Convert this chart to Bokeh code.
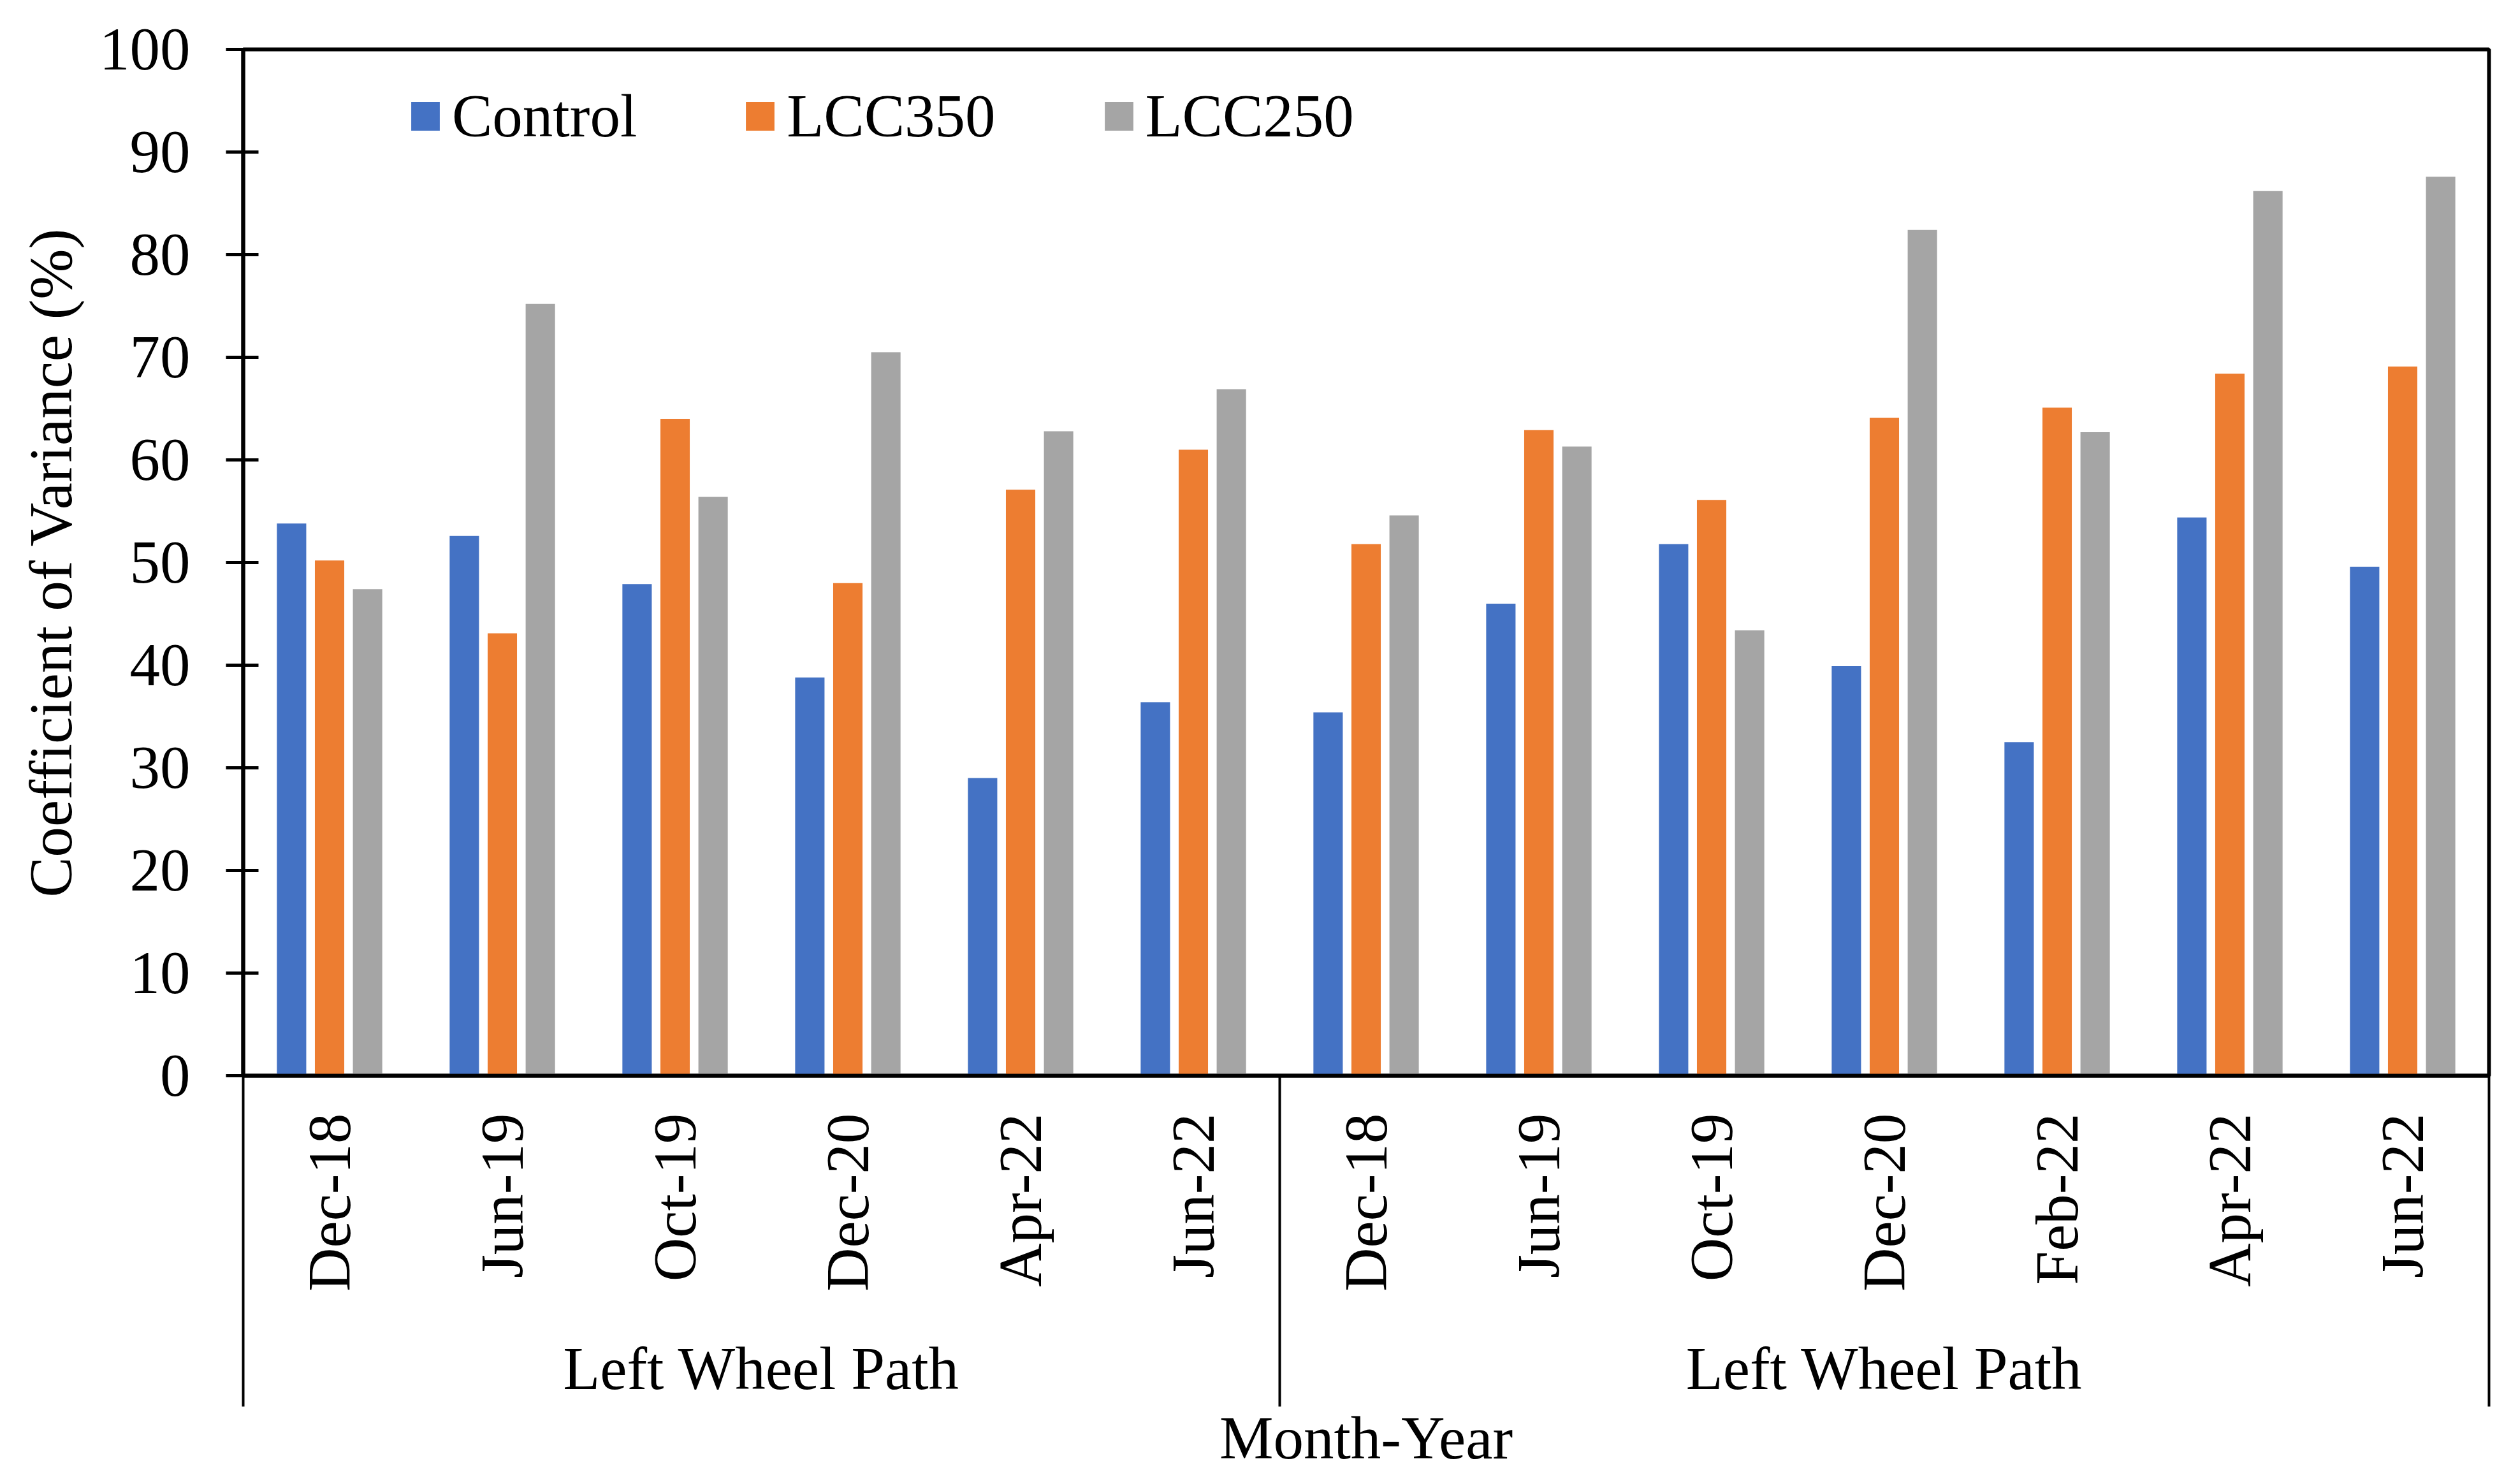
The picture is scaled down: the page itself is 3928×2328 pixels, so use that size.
import math
from bokeh.plotting import figure
from bokeh.models import (ColumnDataSource, LinearAxis, FixedTicker, Range1d)
from bokeh.transform import dodge
from bokeh.embed import file_html
from bokeh.resources import INLINE

# ---- data ----
group_label = "Left Wheel Path"
x_title = "Month-Year"
y_title = "Coefficient of Variance (%)"
months_g1 = ["Dec-18", "Jun-19", "Oct-19", "Dec-20", "Apr-22", "Jun-22"]
months_g2 = ["Dec-18", "Jun-19", "Oct-19", "Dec-20", "Feb-22", "Apr-22", "Jun-22"]
control = [53.8, 52.6, 47.9, 38.8, 29.0, 36.4,
           35.4, 46.0, 51.8, 39.9, 32.5, 54.4, 49.6]
lcc350 = [50.2, 43.1, 64.0, 48.0, 57.1, 61.0,
          51.8, 62.9, 56.1, 64.1, 65.1, 68.4, 69.1]
lcc250 = [47.4, 75.2, 56.4, 70.5, 62.8, 66.9,
          54.6, 61.3, 43.4, 82.4, 62.7, 86.2, 87.6]
y_ticks = [0, 10, 20, 30, 40, 50, 60, 70, 80, 90, 100]

months = months_g1 + months_g2
n = len(months)
xs = list(range(n))
src = ColumnDataSource(dict(x=xs, control=control, lcc350=lcc350, lcc250=lcc250))

FONT = "Liberation Serif"
FS = "95px"

p = figure(width=3912, height=2312, output_backend="svg", toolbar_location=None,
           x_range=Range1d(-0.5, n - 0.5), y_range=Range1d(0, 100),
           min_border_left=381, min_border_right=8, min_border_top=77,
           min_border_bottom=625, x_axis_type=None, y_axis_type=None)
p.grid.visible = False
p.outline_line_color = "black"
p.outline_line_width = 6
p.background_fill_color = "white"
p.border_fill_color = "white"

bw = 0.17
p.vbar(x=dodge("x", -0.22), top="control", width=bw, source=src,
       color="#4472C4", line_color=None, legend_label="Control")
p.vbar(x=dodge("x", 0.0), top="lcc350", width=bw, source=src,
       color="#ED7D31", line_color=None, legend_label="LCC350")
p.vbar(x=dodge("x", 0.22), top="lcc250", width=bw, source=src,
       color="#A5A5A5", line_color=None, legend_label="LCC250")

# y axis
yax = LinearAxis(ticker=FixedTicker(ticks=y_ticks, minor_ticks=[]),
                 axis_label=y_title)
yax.axis_line_width = 6
yax.axis_line_color = "black"
yax.major_tick_in = 24
yax.major_tick_out = 27
yax.major_tick_line_width = 5
yax.minor_tick_line_color = None
yax.major_label_standoff = 56
yax.major_label_text_font = FONT
yax.major_label_text_font_size = FS
yax.major_label_text_color = "black"
yax.axis_label_text_font = FONT
yax.axis_label_text_font_size = FS
yax.axis_label_text_font_style = "normal"
yax.axis_label_text_color = "black"
yax.axis_label_standoff = 20
p.add_layout(yax, "left")

# x axis: month labels + group separators
g1_n = len(months_g1)
boundaries = [-0.5, g1_n - 0.5, n - 0.5]
SEP = 519
xax = LinearAxis(ticker=FixedTicker(ticks=xs, minor_ticks=boundaries))
xax.major_label_overrides = {i: m for i, m in zip(xs, months)}
xax.major_label_orientation = math.pi / 2
xax.axis_line_width = 6
xax.axis_line_color = "black"
xax.major_tick_line_color = None
xax.major_tick_in = 0
xax.major_tick_out = 0
xax.minor_tick_in = 0
xax.minor_tick_out = SEP
xax.minor_tick_line_width = 4
xax.minor_tick_line_color = "black"
xax.major_label_standoff = 59 - SEP
xax.major_label_text_font = FONT
xax.major_label_text_font_size = FS
xax.major_label_text_color = "black"
p.add_layout(xax, "below")

# x axis: group labels + title
centers = [(g1_n - 1) / 2.0, (g1_n + n - 1) / 2.0]
gax = LinearAxis(ticker=FixedTicker(ticks=centers, minor_ticks=[]),
                 axis_label=x_title)
gax.major_label_overrides = {c: group_label for c in centers}
gax.axis_line_color = None
gax.major_tick_line_color = None
gax.minor_tick_line_color = None
gax.major_tick_in = 0
gax.major_tick_out = 0
gax.major_label_standoff = 64
gax.major_label_text_font = FONT
gax.major_label_text_font_size = FS
gax.major_label_text_color = "black"
gax.axis_label_text_font = FONT
gax.axis_label_text_font_size = FS
gax.axis_label_text_font_style = "normal"
gax.axis_label_text_color = "black"
gax.axis_label_standoff = 0
p.add_layout(gax, "below")

# legend
lg = p.legend[0]
lg.orientation = "horizontal"
lg.location = (258, 1450)
lg.label_text_font = FONT
lg.label_text_font_size = FS
lg.label_text_color = "black"
lg.glyph_width = 56
lg.glyph_height = 56
lg.label_standoff = 14
lg.spacing = 165
lg.padding = 0
lg.margin = 0
lg.border_line_color = None
lg.background_fill_alpha = 0

open("out.html", "w").write(file_html(p, INLINE))
